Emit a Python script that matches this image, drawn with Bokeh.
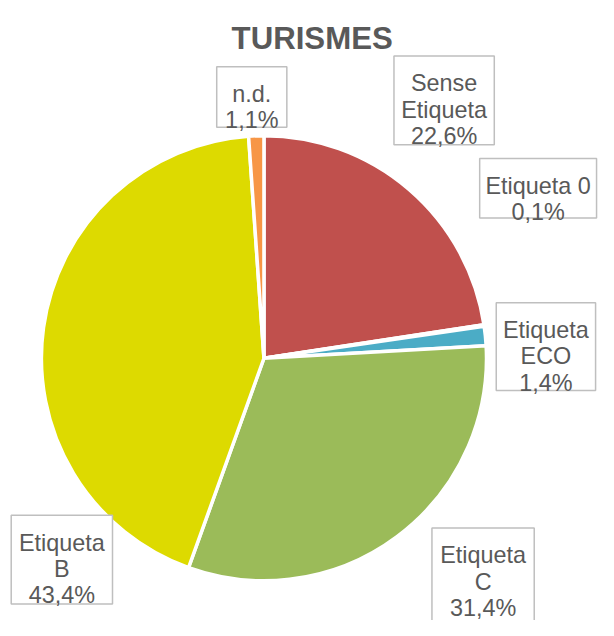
import numpy as np
from bokeh.plotting import figure
from bokeh.models import Range1d, ColumnDataSource
from bokeh.core.properties import value
from bokeh.embed import file_html
from bokeh.resources import INLINE

# ---- data ----
title = "TURISMES"
categories = ["Sense Etiqueta", "Etiqueta 0", "Etiqueta ECO", "Etiqueta C", "Etiqueta B", "n.d."]
label_names = [["Sense", "Etiqueta"], ["Etiqueta 0"], ["Etiqueta", "ECO"],
               ["Etiqueta", "C"], ["Etiqueta", "B"], ["n.d."]]
values = [22.6, 0.1, 1.4, 31.4, 43.4, 1.1]
colors = ["#C0504D", "#8064A2", "#4BACC6", "#9BBB59", "#DDDA00", "#F79646"]

# ---- layout (reference pixel coordinates, 614 x 636) ----
W, H = 614, 636
cx, cy, R = 270.5, 367, 228.5
# label boxes: left, top, width, height
boxes = [(404, 57, 103, 91), (492, 162, 120, 61), (509, 310, 102, 90),
         (443, 541, 105, 100), (11, 528, 104, 91), (222, 68, 72, 62)]
S = 598 / 614.0

def Y(py):
    return H - py

p = figure(width=598, height=620, x_range=Range1d(0, W), y_range=Range1d(0, H),
           output_backend="svg", toolbar_location=None, min_border=0,
           x_axis_type=None, y_axis_type=None)
p.grid.visible = False
p.outline_line_color = None
p.background_fill_color = "white"
p.border_fill_color = "white"

vals = np.array(values, dtype=float)
frac = vals / vals.sum()
cum = np.concatenate([[0], np.cumsum(frac)])
start = np.pi / 2 - 2 * np.pi * cum[:-1]
end = np.pi / 2 - 2 * np.pi * cum[1:]
src = ColumnDataSource(dict(x=[cx] * len(vals), y=[Y(cy)] * len(vals),
                            start=start, end=end, color=colors, cat=categories))
p.wedge(x="x", y="y", radius=R, start_angle="start", end_angle="end",
        direction="clock", fill_color="color", line_color="white", line_width=3.5,
        source=src)

# title
p.text(x=[320], y=[Y(39)], text=[title], text_font=value("Liberation Sans"),
       text_font_size=f"{32 * S:.1f}px", text_font_style="bold", text_color="#595959",
       text_align="center", text_baseline="alphabetic")

# labels
bx, by, bw, bh = [], [], [], []
tx, ty, tt = [], [], []
for (l, t, w, h), names, v in zip(boxes, label_names, values):
    bx.append(l + w / 2); by.append(Y(t + h / 2)); bw.append(w); bh.append(h)
    lines = names + [f"{v:.1f}".replace(".", ",") + "%"]
    for i, s in enumerate(lines):
        tx.append(l + w / 2); ty.append(Y(t + 28 + 27 * i)); tt.append(s)

p.rect(x=bx, y=by, width=bw, height=bh, fill_color="white",
       line_color="#BFBFBF", line_width=1.5)
p.text(x=tx, y=ty, text=tt, text_font=value("Liberation Sans"),
       text_font_size=f"{24 * S:.1f}px", text_color="#595959",
       text_align="center", text_baseline="alphabetic")

open("out.html", "w").write(file_html(p, INLINE))
